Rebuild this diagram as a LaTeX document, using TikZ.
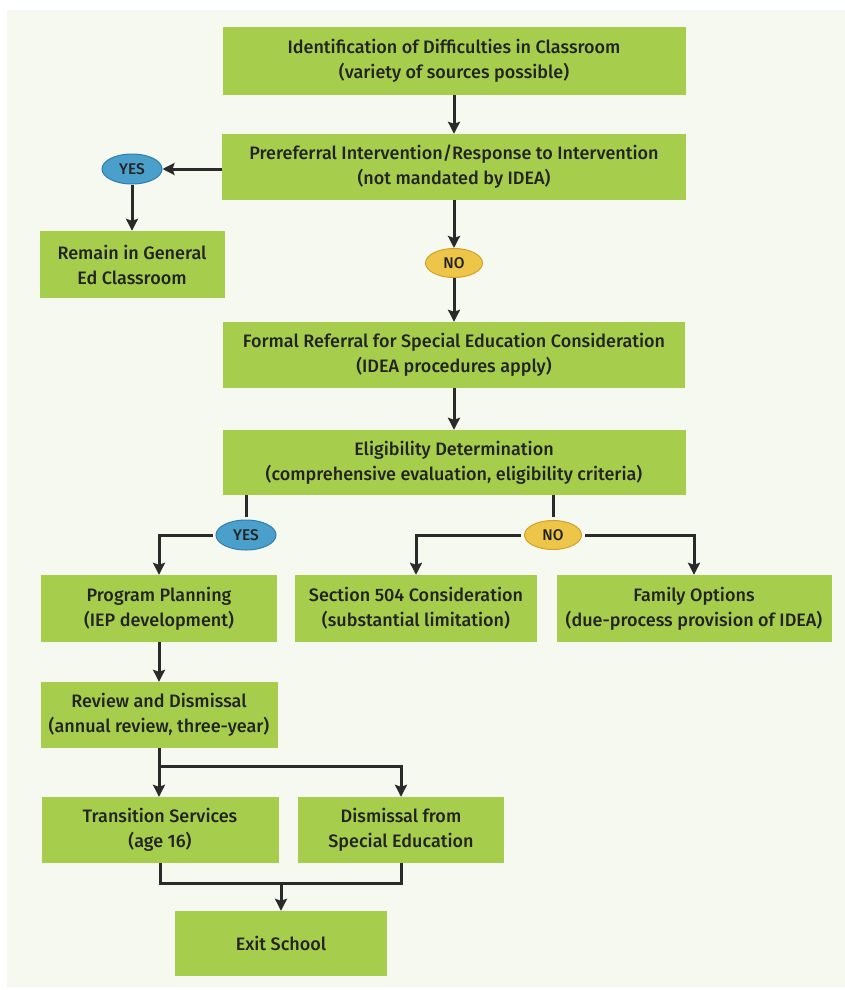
\documentclass[tikz,border=0pt]{standalone}
\usepackage{fontspec}
\setmainfont{Fira Sans Medium}
\usepackage{tikz}
\usetikzlibrary{arrows.meta,positioning,calc,shapes.geometric}
\definecolor{panel}{HTML}{F5F9EF}
\definecolor{boxgreen}{HTML}{A6CE4C}
\definecolor{yesblue}{HTML}{4A9FCB}
\definecolor{yesedge}{HTML}{2F7FAE}
\definecolor{noyellow}{HTML}{EDC548}
\definecolor{noedge}{HTML}{D4A22A}
\definecolor{linedark}{HTML}{2A2A2A}
\definecolor{textdark}{HTML}{232323}
\newcommand{\flowfont}{\fontsize{18}{25}\selectfont}

\begin{document}
\begin{tikzpicture}[x=1pt,y=-1pt,>={Stealth[length=12pt,width=12pt,inset=2pt]},
  box/.style={fill=boxgreen,text=textdark,align=center,inner sep=0pt,minimum height=66pt,font=\flowfont},
  yesoval/.style={ellipse,fill=yesblue,draw=yesedge,line width=1pt,inner sep=0pt,minimum width=60pt,minimum height=30pt,font=\fontsize{15.5}{15.5}\selectfont,text=textdark},
  nooval/.style={ellipse,fill=noyellow,draw=noedge,line width=1pt,inner sep=0pt,minimum width=57pt,minimum height=29pt,font=\fontsize{15.5}{15.5}\selectfont,text=textdark},
  link/.style={draw=linedark,line width=3pt}]
\useasboundingbox (0,0) rectangle (845,990);
\fill[panel] (7,10) rectangle (845,987);

% main column
\node (ident) [box,minimum width=463pt,minimum height=68pt] at (454,61) {Identification of Difficulties in Classroom\\(variety of sources possible)};
\node (preref) [box,minimum width=464pt] at (454,167) {Prereferral Intervention/Response to Intervention\\(not mandated by IDEA)};
\node (yes1) [yesoval] at (132,169) {YES};
\node (remain) [box,minimum width=185pt,minimum height=67pt] at (132,264.5) {Remain in General\\Ed Classroom};
\node (no1) [nooval] at (454,263) {NO};
\node (formal) [box,minimum width=462pt] at (454,355) {Formal Referral for Special Education Consideration\\(IDEA procedures apply)};
\node (elig) [box,minimum width=463pt,minimum height=65pt] at (454,462.5) {Eligibility Determination\\(comprehensive evaluation, eligibility criteria)};

% decision
\node (yes2) [yesoval] at (246,535) {YES};
\node (no2) [nooval] at (553,535) {NO};
\node (plan) [box,minimum width=236pt,minimum height=67pt] at (159,608.5) {Program Planning\\(IEP development)};
\node (sec504) [box,minimum width=242pt,minimum height=67pt] at (416,608.5) {Section 504 Consideration\\(substantial limitation)};
\node (family) [box,minimum width=275pt,minimum height=67pt] at (694,608.5) {Family Options\\(due-process provision of IDEA)};

% services
\node (review) [box,minimum width=237pt] at (159,715) {Review and Dismissal\\(annual review, three-year)};
\node (trans) [box,minimum width=237pt] at (160,830) {Transition Services\\(age 16)};
\node (dismiss) [box,minimum width=206pt] at (401,830) {Dismissal from\\Special Education};
\node (exit) [box,minimum width=212pt,minimum height=65pt] at (281,943.5) {Exit School};
\coordinate (split) at (159,766);
\coordinate (merge) at (281,883);

\draw[link,->] (ident) -- (preref);
\draw[link,->] (preref.west |- yes1) -- (yes1);
\draw[link,->] (yes1) -- (remain);
\draw[link,->] (preref) -- (no1);
\draw[link,->] (no1) -- (formal);
\draw[link,->] (formal) -- (elig);
\draw[link,shorten >=3pt] (elig.south -| yes2) -- (yes2);
\draw[link,->,shorten <=3pt] (yes2.west) -| (plan);
\draw[link,shorten >=3pt] (elig.south -| no2) -- (no2);
\draw[link,->,shorten <=3pt] (no2.west) -| (sec504);
\draw[link,->,shorten <=3pt] (no2.east) -| (family);
\draw[link,->] (plan) -- (review);
\draw[link,->] (review.south) -- (review.south |- trans.north);
\draw[link,->] (split) -| (dismiss);
\draw[link] (trans.south) |- (merge) -| (dismiss.south);
\draw[link,->] (merge) -- (exit);
\end{tikzpicture}
\end{document}
